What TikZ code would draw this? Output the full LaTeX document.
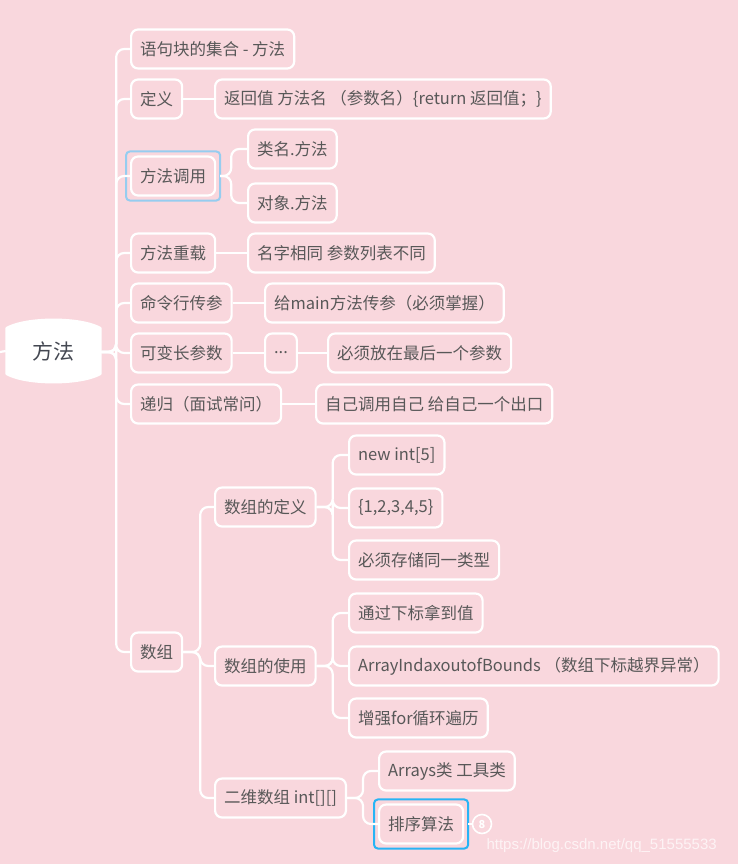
\documentclass[tikz,border=0pt]{standalone}
\usepackage{fontspec}
\setmainfont{Noto Sans CJK SC}
\newfontfamily\wmfont{Liberation Sans}
\usetikzlibrary{positioning}
\definecolor{bgpink}{RGB}{249,215,221}
\definecolor{txtgray}{RGB}{88,88,88}
\definecolor{roottxt}{RGB}{68,72,82}
\definecolor{selblue}{RGB}{150,205,240}
\definecolor{actblue}{RGB}{40,180,245}
\tikzset{
  topic/.style={draw=white,line width=2.2pt,rounded corners=7pt,minimum height=39pt,inner xsep=9pt,anchor=west,text=txtgray,font=\fontsize{16.5}{19}\selectfont},
  roottopic/.style={minimum width=93pt,minimum height=45pt,inner sep=0pt,text=roottxt,font=\fontsize{21}{24}\selectfont},
  rootshape/.style={fill=white,draw=white,line width=3pt,line join=round},
  link/.style={draw=white,line width=2.2pt,rounded corners=8pt},
  selbox/.style={draw=selblue,line width=2pt,rounded corners=4pt},
  actbox/.style={draw=actblue,line width=2pt,rounded corners=4pt},
  badge/.style={circle,draw=white,line width=1.6pt,minimum size=19pt,inner sep=0pt,text=white,font=\fontsize{11}{12}\selectfont\bfseries},
  wmark/.style={anchor=west,text=white,opacity=0.7,font=\wmfont\fontsize{15}{17}\selectfont}
}

\begin{document}
\begin{tikzpicture}[x=1pt,y=-1pt]
  \fill[bgpink] (0,0) rectangle (738,864);
  \useasboundingbox (0,0) rectangle (738,864);

  % root
  \node[roottopic] (root) at (53.5,351) {};
  \draw[rootshape] (root.south west) -- (root.north west)
    .. controls ([shift={(20,-11)}]root.north west) and ([shift={(-20,-11)}]root.north east) .. (root.north east)
    -- (root.south east)
    .. controls ([shift={(-20,11)}]root.south east) and ([shift={(20,11)}]root.south west) .. cycle;
  \node[roottopic] at (root) {方法};
  \coordinate (stub) at (0,352);

  % first level
  \node[topic] (blk) at (130,49) {语句块的集合 - 方法};
  \node[topic] (def) at (130,99) {定义};
  \node[topic] (call) at (130,176) {方法调用};
  \node[topic] (over) at (130,253) {方法重载};
  \node[topic] (cmd) at (130,303) {命令行传参};
  \node[topic] (varg) at (130,353) {可变长参数};
  \node[topic] (recur) at (130,404) {递归（面试常问）};
  \node[topic] (arr) at (130,652) {数组};

  % second level
  \node[topic] (defv) at (214,99) {返回值 方法名 （参数名）\{return 返回值；\}};
  \node[topic] (cls) at (247,149) {类名.方法};
  \node[topic] (obj) at (247,203) {对象.方法};
  \node[topic] (overv) at (247,253) {名字相同 参数列表不同};
  \node[topic] (cmdv) at (264,303) {给main方法传参（必须掌握）};
  \node[topic] (dots) at (264,353) {...};
  \node[topic] (last) at (327,353) {必须放在最后一个参数};
  \node[topic] (recurv) at (315,404) {自己调用自己 给自己一个出口};
  \node[topic] (adef) at (214,507) {数组的定义};
  \node[topic] (ause) at (214,666) {数组的使用};
  \node[topic] (atwo) at (214,798) {二维数组 int[][]};

  % third level
  \node[topic] (newa) at (348,455) {new int[5]};
  \node[topic] (lit) at (348,508) {\{1,2,3,4,5\}};
  \node[topic] (same) at (348,560) {必须存储同一类型};
  \node[topic] (idx) at (348,613) {通过下标拿到值};
  \node[topic] (oob) at (348,666) {ArrayIndaxoutofBounds （数组下标越界异常）};
  \node[topic] (fore) at (348,718) {增强for循环遍历};
  \node[topic] (tool) at (378,771) {Arrays类 工具类};
  \node[topic] (sort) at (378,824) {排序算法};

  % selection frames
  \draw[selbox] ([shift={(-4,4)}]call.south west) rectangle ([shift={(4,-4)}]call.north east);
  \draw[actbox] ([shift={(-4,4)}]sort.south west) rectangle ([shift={(4,-4)}]sort.north east);

  \node[badge] (cnt) at (482,824) {8};
  \node[wmark] (wm) at (483,846) {https://blog.csdn.net/qq\_51555533};

  % connectors
  \draw[link] (stub) -- ([xshift=-1pt]root.west);
  \foreach \c in {blk,def,call,over,cmd,varg,recur,arr}
    \draw[link] ([yshift=-1pt]root.east) -- ++(16,0) |- (\c.west);
  \draw[link] (def) -- (defv);
  \foreach \c in {cls,obj}
    \draw[link] ([xshift=4pt]call.east) -- ++(11,0) |- (\c.west);
  \draw[link] (over) -- (overv);
  \draw[link] (cmd) -- (cmdv);
  \draw[link] (varg) -- (dots);
  \draw[link] (dots) -- (last);
  \draw[link] (recur) -- (recurv);
  \foreach \c in {adef,ause,atwo}
    \draw[link] (arr.east) -- ++(17,0) |- (\c.west);
  \foreach \c in {newa,lit,same}
    \draw[link] (adef.east) -- ++(16,0) |- (\c.west);
  \foreach \c in {idx,oob,fore}
    \draw[link] (ause.east) -- ++(16,0) |- (\c.west);
  \foreach \c in {tool,sort}
    \draw[link] (atwo.east) -- ++(16,0) |- (\c.west);
  \draw[white,line width=1.4pt] ([xshift=4pt]sort.east) -- (cnt.west);
\end{tikzpicture}
\end{document}
